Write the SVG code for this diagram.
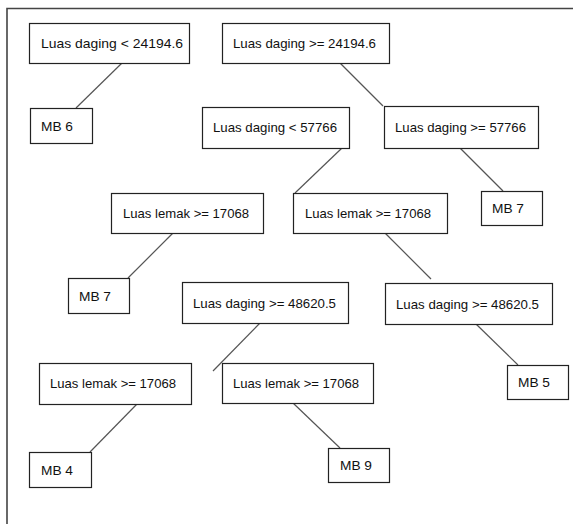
<svg xmlns="http://www.w3.org/2000/svg" width="573" height="524" viewBox="0 0 573 524">
<style>
.b{fill:#fff;stroke:#222;stroke-width:1.2}
.t{font-family:"Liberation Sans",Arial,sans-serif;font-size:13px;fill:#111}
.c line{stroke:#555;stroke-width:1.2}
.f{stroke:#444;stroke-width:1.6;fill:none}
</style>
<rect width="573" height="524" fill="#fff"/>
<path class="f" d="M7,524 V8.5 H573"/>
<g class="c" id="connectors">
<line x1="122" y1="63" x2="76" y2="108"/>
<line x1="340" y1="63" x2="383" y2="106"/>
<line x1="342" y1="148" x2="295" y2="193"/>
<line x1="460" y1="148" x2="503" y2="191"/>
<line x1="173" y1="233" x2="128" y2="278"/>
<line x1="385" y1="233" x2="431" y2="279"/>
<line x1="476" y1="324" x2="518" y2="365"/>
<line x1="260" y1="323" x2="213" y2="371"/>
<line x1="137" y1="404" x2="90" y2="452"/>
<line x1="293" y1="403" x2="340" y2="448"/>
</g>
<g id="n1"><rect class="b" x="29.5" y="23.5" width="160" height="40"/><text class="t" x="41" y="48" textLength="142" lengthAdjust="spacingAndGlyphs">Luas daging &lt; 24194.6</text></g>
<g id="n2"><rect class="b" x="222.5" y="23.5" width="167" height="40"/><text class="t" x="233" y="48" textLength="143" lengthAdjust="spacingAndGlyphs">Luas daging &gt;= 24194.6</text></g>
<g id="n3"><rect class="b" x="30.5" y="108.5" width="62" height="35"/><text class="t" x="41" y="130.5" textLength="32" lengthAdjust="spacingAndGlyphs">MB 6</text></g>
<g id="n4"><rect class="b" x="202.5" y="107.5" width="147" height="41"/><text class="t" x="213" y="132" textLength="124" lengthAdjust="spacingAndGlyphs">Luas daging &lt; 57766</text></g>
<g id="n5"><rect class="b" x="384.5" y="106.5" width="154" height="42"/><text class="t" x="395" y="131.5" textLength="131" lengthAdjust="spacingAndGlyphs">Luas daging &gt;= 57766</text></g>
<g id="n6"><rect class="b" x="481.5" y="191.5" width="61" height="34"/><text class="t" x="492" y="213" textLength="32" lengthAdjust="spacingAndGlyphs">MB 7</text></g>
<g id="n7"><rect class="b" x="293.5" y="193.5" width="154" height="40"/><text class="t" x="305" y="218" textLength="126" lengthAdjust="spacingAndGlyphs">Luas lemak &gt;= 17068</text></g>
<g id="n8"><rect class="b" x="111.5" y="193.5" width="152" height="40"/><text class="t" x="123" y="218" textLength="126" lengthAdjust="spacingAndGlyphs">Luas lemak &gt;= 17068</text></g>
<g id="n9"><rect class="b" x="68.5" y="278.5" width="61" height="35"/><text class="t" x="79" y="300.5" textLength="32" lengthAdjust="spacingAndGlyphs">MB 7</text></g>
<g id="n10"><rect class="b" x="182.5" y="282.5" width="166" height="41"/><text class="t" x="193" y="307.5" textLength="143" lengthAdjust="spacingAndGlyphs">Luas daging &gt;= 48620.5</text></g>
<g id="n11"><rect class="b" x="385.5" y="283.5" width="167" height="41"/><text class="t" x="396" y="308.5" textLength="143" lengthAdjust="spacingAndGlyphs">Luas daging &gt;= 48620.5</text></g>
<g id="n12"><rect class="b" x="39.5" y="363.5" width="152" height="41"/><text class="t" x="50" y="388" textLength="126" lengthAdjust="spacingAndGlyphs">Luas lemak &gt;= 17068</text></g>
<g id="n13"><rect class="b" x="222.5" y="363.5" width="151" height="40"/><text class="t" x="233" y="388" textLength="126" lengthAdjust="spacingAndGlyphs">Luas lemak &gt;= 17068</text></g>
<g id="n14"><rect class="b" x="507.5" y="365.5" width="61" height="34"/><text class="t" x="518" y="387" textLength="32" lengthAdjust="spacingAndGlyphs">MB 5</text></g>
<g id="n15"><rect class="b" x="29.5" y="452.5" width="62" height="35"/><text class="t" x="41" y="474.5" textLength="32" lengthAdjust="spacingAndGlyphs">MB 4</text></g>
<g id="n16"><rect class="b" x="328.5" y="448.5" width="61" height="34"/><text class="t" x="340" y="470" textLength="32" lengthAdjust="spacingAndGlyphs">MB 9</text></g>
</svg>
